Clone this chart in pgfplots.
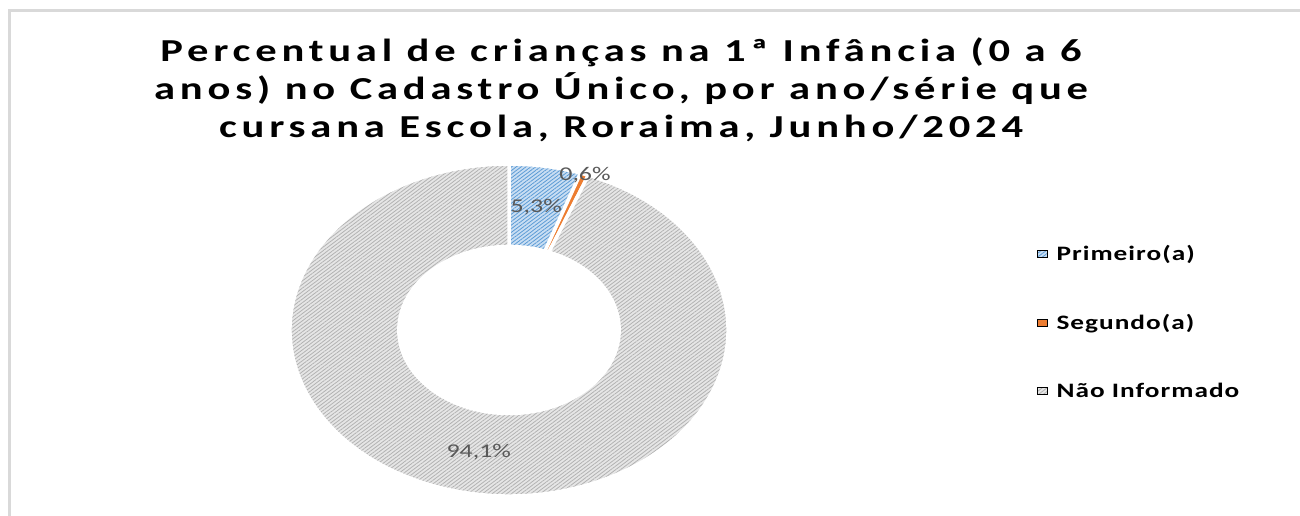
\documentclass[border=0pt]{standalone}
\usepackage{fontspec}
\setmainfont{Carlito}[FakeStretch=1.33]
\newfontfamily\titlefont{Carlito}[FakeStretch=1.33,LetterSpace=15]
\newfontfamily\legendfont{Carlito}[FakeStretch=1.33,LetterSpace=5]
\usepackage{pgfplots}
\pgfplotsset{compat=1.18}
\usepackage{pgfplotstable}
\usetikzlibrary{patterns.meta}

\definecolor{blueline}{HTML}{5B9BD5}
\definecolor{bluebase}{HTML}{C9DEF3}
\definecolor{orangeS}{HTML}{ED7D31}
\definecolor{grayline}{HTML}{B2B2B2}
\definecolor{graybase}{HTML}{E6E6E6}
\definecolor{labelgray}{HTML}{595959}
\definecolor{bordergray}{HTML}{D9D9D9}

\pgfplotstableread{
cat value
Primeiro 5.3
Segundo 0.6
NaoInformado 94.1
}\donutdata

\tikzset{
 sliceA/.style={preaction={fill=bluebase}, pattern={Lines[angle=37,distance=2.9pt,line width=0.8pt]}, pattern color=blueline},
 sliceB/.style={fill=orangeS},
 sliceC/.style={preaction={fill=graybase}, pattern={Lines[angle=37,distance=2.9pt,line width=0.8pt]}, pattern color=grayline},
}
\def\Rx{219pt}
\def\Ry{166pt}
\def\k{0.503}
\newcommand\slice[3]{\path[#3,draw=white,line width=3.5pt]
  (axis cs:{cos(#1)},{sin(#1)}) arc[start angle=#1,end angle=#2,x radius=\Rx,y radius=\Ry]
  -- (axis cs:{\k*cos(#2)},{\k*sin(#2)}) arc[start angle=#2,end angle=#1,x radius=\k*\Rx,y radius=\k*\Ry] -- cycle;}

\begin{document}
\begin{tikzpicture}[x=1pt,y=1pt]
\useasboundingbox (0,0) rectangle (1300,516);
\draw[bordergray, line width=3pt] (9.5,0) -- (9.5,505) -- (1300,505);

\pgfplotstablegetelem{0}{value}\of\donutdata \let\vA\pgfplotsretval
\pgfplotstablegetelem{1}{value}\of\donutdata \let\vB\pgfplotsretval
\pgfplotstablegetelem{2}{value}\of\donutdata \let\vC\pgfplotsretval
\pgfmathsetmacro\aA{90}
\pgfmathsetmacro\aB{\aA-3.6*\vA}
\pgfmathsetmacro\aC{\aB-3.6*\vB}
\pgfmathsetmacro\aD{\aC-3.6*\vC}
\pgfmathsetmacro\mA{(\aA+\aB)/2}
\pgfmathsetmacro\mC{(\aC+\aD)/2}

\begin{axis}[
  at={(509pt,186pt)}, anchor=center,
  x=219pt, y=166pt,
  xmin=-1.05, xmax=1.05, ymin=-1.05, ymax=1.05,
  hide axis, clip=false,
  legend style={at={(axis description cs:1.648,0.523)}, anchor=west, draw=none, fill=none,
    font=\legendfont\bfseries\fontsize{20.5}{24}\selectfont, row sep=50pt, column sep=8pt, inner sep=0pt,
    nodes={inner sep=1pt}},
  legend cell align=left,
  legend image code/.code={\path[#1] (0pt,-3.5pt) rectangle (10pt,3.5pt);},
]
\slice{\aA}{\aB}{sliceA}
\slice{\aB}{\aC}{sliceB}
\slice{\aC}{\aD}{sliceC}
\addlegendimage{sliceA}
\addlegendentry{Primeiro(a)}
\addlegendimage{sliceB}
\addlegendentry{Segundo(a)}
\addlegendimage{sliceC}
\addlegendentry{Não Informado}
\node[text=labelgray, font=\fontsize{19.5}{22}\selectfont] at (axis cs:{0.75*cos(\mA)},{0.75*sin(\mA)}) {5,3\%};
\node[text=labelgray, font=\fontsize{19.5}{22}\selectfont] at (axis cs:0.347,0.934) {0,6\%};
\node[text=labelgray, font=\fontsize{19.5}{22}\selectfont] at (axis cs:{0.75*cos(\mC)},{0.75*sin(\mC)}) {94,1\%};
\end{axis}

\node[align=center, font=\titlefont\bfseries\fontsize{32}{38}\selectfont] at (621,426)
  {Percentual de crianças na 1ª Infância (0 a 6\\anos) no Cadastro Único, por ano/série que\\cursana Escola, Roraima, Junho/2024};
\end{tikzpicture}
\end{document}
